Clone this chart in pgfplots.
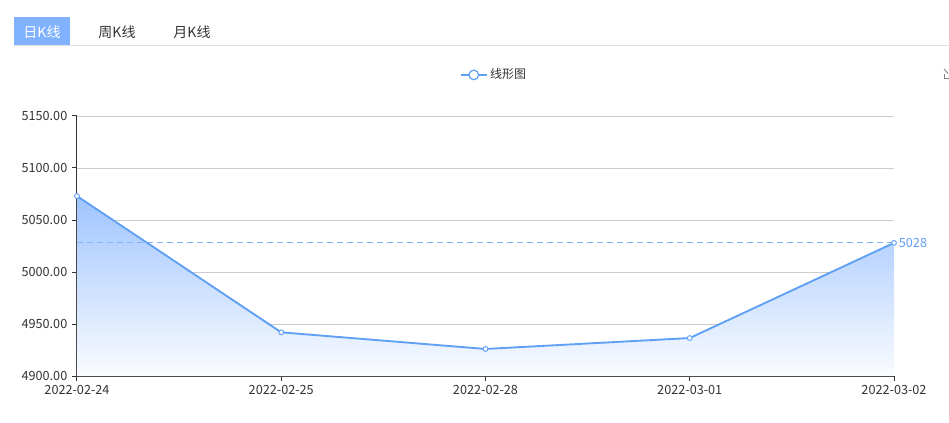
\documentclass[border=0pt]{standalone}
\usepackage{fontspec}
\setmainfont{Noto Sans CJK SC}
\usepackage{pgfplots}
\pgfplotsset{compat=1.18}
\definecolor{lineblue}{RGB}{96,160,244}
\definecolor{tabblue}{RGB}{128,178,255}
\definecolor{gridgray}{RGB}{204,204,204}
\definecolor{textgray}{RGB}{51,51,51}
\definecolor{dashblue}{RGB}{130,180,245}
\definecolor{areatop}{RGB}{160,196,255}
\definecolor{areabot}{RGB}{250,252,255}
\begin{document}
\begin{tikzpicture}
\useasboundingbox (0,0) rectangle (711.75pt,316.5pt);
\begin{scope}[shift={(0pt,316.5pt)},x=0.75pt,y=-0.75pt]
  \fill[tabblue] (14,17) rectangle (70,46);
  \node[text=white,font=\fontsize{10.5}{12}\selectfont] at (42,32) {日K线};
  \node[text=textgray,font=\fontsize{10.5}{12}\selectfont] at (117,32) {周K线};
  \node[text=textgray,font=\fontsize{10.5}{12}\selectfont] at (192,32) {月K线};
  \draw[gray!25, line width=1.1pt] (14,45.5) -- (949,45.5);
  \draw[gray, line width=0.7pt] (944,69) -- (948,73.5);
  \draw[gray, line width=0.7pt] (944,74) -- (944,78.5) -- (949,78.5);
\end{scope}
\begin{axis}[
  at={(57.75pt,34.5pt)}, anchor=south west, scale only axis,
  width=612.75pt, height=195pt,
  xmin=0, xmax=4, ymin=4900, ymax=5150,
  ytick={4900,4950,5000,5050,5100,5150},
  xtick={0,1,2,3,4},
  xticklabels={2022-02-24,2022-02-25,2022-02-28,2022-03-01,2022-03-02},
  ymajorgrids, grid style={gridgray, line width=0.6pt},
  axis x line*=bottom, axis y line*=left,
  axis line style={textgray, line width=0.75pt},
  tick align=outside, major tick length=3.75pt,
  tick style={textgray, line width=0.75pt},
  ticklabel style={font=\fontsize{9.5}{10}\selectfont, text=textgray},
  /pgf/number format/assume math mode=true,
  y tick label style={/pgf/number format/.cd, fixed, fixed zerofill, precision=2, 1000 sep={}},
  clip=false,
  legend style={at={(axis description cs:0.511,1.158)}, anchor=center, draw=none, fill=none,
    font=\fontsize{9}{10}\selectfont, text=textgray},
  legend image code/.code={
    \draw[lineblue, line width=0.9pt] (0pt,0pt) -- (19.5pt,0pt);
    \draw[lineblue, fill=white, line width=0.9pt] (9.75pt,0pt) circle (3.6pt);
  },
]
\addplot[draw=none, top color=areatop, bottom color=areabot, forget plot]
  coordinates {(0,5073) (1,4942) (2,4926) (3,4936.5) (4,5028) (4,4900) (0,4900)} -- cycle;
\addplot[dashblue, dash pattern=on 4.5pt off 3pt, line width=0.75pt, forget plot]
  coordinates {(0,5028) (4,5028)};
\addplot[lineblue, line width=1.4pt, mark=*, mark size=1.8pt,
  mark options={fill=white, draw=lineblue, line width=0.7pt}]
  coordinates {(0,5073) (1,4942) (2,4926) (3,4936.5) (4,5028)};
\addlegendentry{线形图}
\node[anchor=west, text=lineblue, font=\fontsize{9.5}{10}\selectfont, inner sep=1pt, xshift=2.5pt] at (axis cs:4,5028) {5028};
\end{axis}
\end{tikzpicture}
\end{document}
